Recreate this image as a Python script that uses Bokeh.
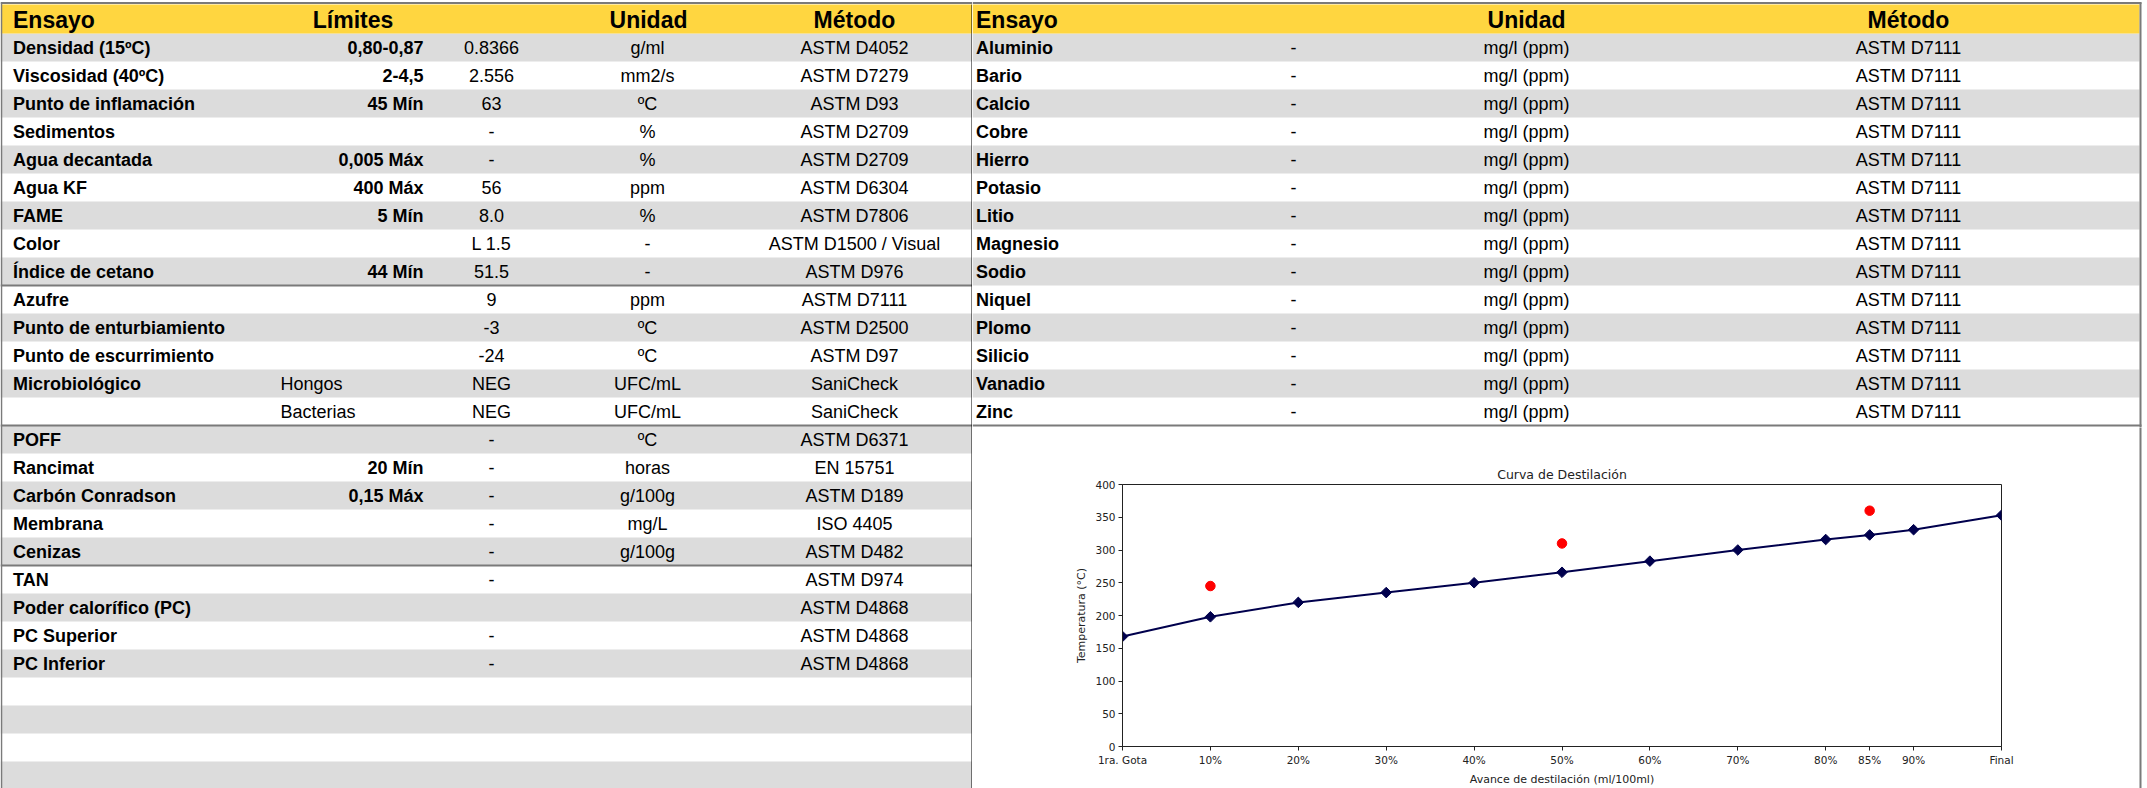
import numpy as np
from bokeh.plotting import figure
from bokeh.models import Range1d, FixedTicker
from bokeh.layouts import row, column
from bokeh.embed import file_html
from bokeh.resources import INLINE
from bokeh.core.properties import value

# ------------------------------------------------------------------ data
left_headers = ["Ensayo", "Límites", "Unidad", "Método"]
left_ensayo = ["Densidad (15ºC)", "Viscosidad (40ºC)", "Punto de inflamación", "Sedimentos",
               "Agua decantada", "Agua KF", "FAME", "Color", "Índice de cetano",
               "Azufre", "Punto de enturbiamiento", "Punto de escurrimiento", "Microbiológico", "",
               "POFF", "Rancimat", "Carbón Conradson", "Membrana", "Cenizas",
               "TAN", "Poder calorífico (PC)", "PC Superior", "PC Inferior"]
left_sublabel = ["", "", "", "", "", "", "", "", "",
                 "", "", "", "Hongos", "Bacterias",
                 "", "", "", "", "",
                 "", "", "", ""]
left_limites = ["0,80-0,87", "2-4,5", "45 Mín", "", "0,005 Máx", "400 Máx", "5 Mín", "", "44 Mín",
                "", "", "", "", "",
                "", "20 Mín", "0,15 Máx", "", "",
                "", "", "", ""]
left_resultado = ["0.8366", "2.556", "63", "-", "-", "56", "8.0", "L 1.5", "51.5",
                  "9", "-3", "-24", "NEG", "NEG",
                  "-", "-", "-", "-", "-",
                  "-", "", "-", "-"]
left_unidad = ["g/ml", "mm2/s", "ºC", "%", "%", "ppm", "%", "-", "-",
               "ppm", "ºC", "ºC", "UFC/mL", "UFC/mL",
               "ºC", "horas", "g/100g", "mg/L", "g/100g",
               "", "", "", ""]
left_metodo = ["ASTM D4052", "ASTM D7279", "ASTM D93", "ASTM D2709", "ASTM D2709", "ASTM D6304",
               "ASTM D7806", "ASTM D1500 / Visual", "ASTM D976",
               "ASTM D7111", "ASTM D2500", "ASTM D97", "SaniCheck", "SaniCheck",
               "ASTM D6371", "EN 15751", "ASTM D189", "ISO 4405", "ASTM D482",
               "ASTM D974", "ASTM D4868", "ASTM D4868", "ASTM D4868"]
left_empty_rows = 4
left_group_ends = [9, 14, 19]

right_headers = ["Ensayo", "Unidad", "Método"]
right_ensayo = ["Aluminio", "Bario", "Calcio", "Cobre", "Hierro", "Potasio", "Litio",
                "Magnesio", "Sodio", "Niquel", "Plomo", "Silicio", "Vanadio", "Zinc"]
right_resultado = ["-", "-", "-", "-", "-", "-", "-", "-", "-", "-", "-", "-", "-", "-"]
right_unidad = ["mg/l (ppm)", "mg/l (ppm)", "mg/l (ppm)", "mg/l (ppm)", "mg/l (ppm)",
                "mg/l (ppm)", "mg/l (ppm)", "mg/l (ppm)", "mg/l (ppm)", "mg/l (ppm)",
                "mg/l (ppm)", "mg/l (ppm)", "mg/l (ppm)", "mg/l (ppm)"]
right_metodo = ["ASTM D7111", "ASTM D7111", "ASTM D7111", "ASTM D7111", "ASTM D7111",
                "ASTM D7111", "ASTM D7111", "ASTM D7111", "ASTM D7111", "ASTM D7111",
                "ASTM D7111", "ASTM D7111", "ASTM D7111", "ASTM D7111"]

chart_title = "Curva de Destilación"
chart_xlabel = "Avance de destilación (ml/100ml)"
chart_ylabel = "Temperatura (°C)"
dist_labels = ["1ra. Gota", "10%", "20%", "30%", "40%", "50%", "60%", "70%", "80%", "85%", "90%", "Final"]
dist_pos = [0, 10, 20, 30, 40, 50, 60, 70, 80, 85, 90, 100]
dist_temp = [168, 198, 220, 235, 250, 266, 283, 300, 316, 323, 331, 353]
spec_pos = [10, 50, 85]
spec_temp = [245, 310, 360]
y_ticks = [0, 50, 100, 150, 200, 250, 300, 350, 400]

# ------------------------------------------------------------------ styles
FONT = "Liberation Sans"
CFONT = "DejaVu Sans"
YELLOW = "#FFD640"
GRAY = "#DCDCDC"
SEP = "#7a7a7a"
NAVY = "#00004d"
ROW_H = 28.0
ROW0 = 5.0    # px of first header row unit
TOP_PX = 0.0
PAGE_W, PAGE_H = 2147, 788


def u(px):
    return (px - ROW0) / ROW_H


def table_fig(x_lo, x_hi, px_bot, px_top=TOP_PX):
    p = figure(width=int(round(x_hi - x_lo)), height=int(round(px_bot - px_top)),
               x_range=Range1d(x_lo, x_hi), y_range=Range1d(u(px_bot), u(px_top)),
               toolbar_location=None, output_backend="svg", min_border=0,
               x_axis_location=None, y_axis_location=None, outline_line_color=None)
    p.grid.visible = False
    p.background_fill_color = "white"
    p.border_fill_color = "white"
    p.frame_align = False
    return p


def add_text(p, x, rows, texts, size="18px", bold=False, align="left"):
    p.text(x=[x] * len(texts), y=[r + 0.5 for r in rows], text=texts,
           text_font=value(FONT), text_font_size=size,
           text_font_style="bold" if bold else "normal",
           text_align=align, text_baseline="middle", text_color="black")


# ------------------------------------------------------------------ left table
LX0, LX1 = 0.0, 972.0
left = table_fig(LX0, LX1, PAGE_H)
n_left = len(left_ensayo) + left_empty_rows
rows_all = np.arange(1, n_left + 1)
gray_rows = [r for r in rows_all if r % 2 == 1]
left.quad(left=LX0, right=LX1, top=gray_rows, bottom=[r + 1 for r in gray_rows],
          fill_color=GRAY, line_color=None)
left.quad(left=LX0, right=LX1, top=u(4), bottom=1, fill_color=YELLOW, line_color=None)
left.segment(x0=LX0, x1=LX1, y0=[g + 1 for g in left_group_ends], y1=[g + 1 for g in left_group_ends],
             line_color=SEP, line_width=2)
left.segment(x0=LX0, x1=LX1, y0=u(2.5), y1=u(2.5), line_color=SEP, line_width=2)
left.segment(x0=1.0, x1=1.0, y0=u(2), y1=n_left + 2, line_color=SEP, line_width=1.5)
left.segment(x0=971.5, x1=971.5, y0=u(4), y1=n_left + 2, line_color="black", line_width=1)

hdr_row = [0]
add_text(left, 12.5, hdr_row, [left_headers[0]], size="23px", bold=True, align="left")
add_text(left, 352.5, hdr_row, [left_headers[1]], size="23px", bold=True, align="center")
add_text(left, 648, hdr_row, [left_headers[2]], size="23px", bold=True, align="center")
add_text(left, 854, hdr_row, [left_headers[3]], size="23px", bold=True, align="center")

data_rows = list(range(1, len(left_ensayo) + 1))
add_text(left, 12.5, data_rows, left_ensayo, bold=True, align="left")
add_text(left, 280, data_rows, left_sublabel, align="left")
add_text(left, 423, data_rows, left_limites, bold=True, align="right")
add_text(left, 491, data_rows, left_resultado, align="center")
add_text(left, 647, data_rows, left_unidad, align="center")
add_text(left, 854, data_rows, left_metodo, align="center")

# ------------------------------------------------------------------ right table
RX0, RX1 = 972.0, float(PAGE_W)
RIGHT_BOT = 427.0
EDGE_X = 2140.0
right = table_fig(RX0, RX1, RIGHT_BOT)
n_right = len(right_ensayo)
r_rows = list(range(1, n_right + 1))
r_gray = [r for r in r_rows if r % 2 == 1]
right.quad(left=RX0, right=EDGE_X - 1, top=r_gray, bottom=[r + 1 for r in r_gray],
           fill_color=GRAY, line_color=None)
right.quad(left=RX0, right=EDGE_X - 1, top=u(4), bottom=1, fill_color=YELLOW, line_color=None)
right.segment(x0=RX0, x1=EDGE_X + 1, y0=n_right + 1, y1=n_right + 1, line_color=SEP, line_width=2)
right.segment(x0=RX0, x1=EDGE_X + 1, y0=u(2.5), y1=u(2.5), line_color=SEP, line_width=2)
right.segment(x0=EDGE_X, x1=EDGE_X, y0=u(2), y1=n_right + 3, line_color=SEP, line_width=2)

add_text(right, 975.5, hdr_row, [right_headers[0]], size="23px", bold=True, align="left")
add_text(right, 1526, hdr_row, [right_headers[1]], size="23px", bold=True, align="center")
add_text(right, 1908, hdr_row, [right_headers[2]], size="23px", bold=True, align="center")
add_text(right, 975.5, r_rows, right_ensayo, bold=True, align="left")
add_text(right, 1293, r_rows, right_resultado, align="center")
add_text(right, 1526, r_rows, right_unidad, align="center")
add_text(right, 1908, r_rows, right_metodo, align="center")

# ------------------------------------------------------------------ chart
EDGE_W = 10
chart = figure(width=int(PAGE_W - RX0) - EDGE_W, height=int(PAGE_H - RIGHT_BOT),
               x_range=Range1d(0, 100), y_range=Range1d(0, 400),
               toolbar_location=None, output_backend="svg", title=chart_title,
               min_border_left=150, min_border_right=146 - EDGE_W, min_border_top=57, min_border_bottom=41)
chart.frame_align = False
chart.grid.visible = False
chart.outline_line_color = "#222222"
chart.outline_line_width = 1
chart.background_fill_color = "white"
chart.border_fill_color = "white"
chart.title.align = "center"
chart.title.text_font = CFONT
chart.title.text_font_size = "12.5px"
chart.title.text_font_style = "normal"
chart.title.text_color = "#222222"
chart.title.standoff = 5

chart.xaxis.ticker = FixedTicker(ticks=dist_pos)
chart.xaxis.major_label_overrides = {k: v for k, v in zip(dist_pos, dist_labels)}
chart.yaxis.ticker = FixedTicker(ticks=y_ticks)
chart.xaxis.axis_label = chart_xlabel
chart.yaxis.axis_label = chart_ylabel
for ax in (chart.xaxis, chart.yaxis):
    ax.axis_line_color = "#222222"
    ax.major_tick_line_color = "#222222"
    ax.major_tick_out = 4
    ax.major_tick_in = 0
    ax.minor_tick_out = 0
    ax.minor_tick_in = 0
    ax.major_label_standoff = 3
    ax.major_label_text_font = CFONT
    ax.major_label_text_font_size = "10.5px"
    ax.major_label_text_color = "#222222"
    ax.axis_label_text_font = CFONT
    ax.axis_label_text_font_size = "11px"
    ax.axis_label_text_font_style = "normal"
    ax.axis_label_text_color = "#222222"
    ax.axis_label_standoff = 4

chart.line(dist_pos, dist_temp, line_color=NAVY, line_width=2)
chart.scatter(dist_pos, dist_temp, marker="square", angle=np.pi / 4, size=7.5,
              fill_color=NAVY, line_color=NAVY)
chart.scatter(spec_pos, spec_temp, marker="circle", size=9.5, fill_color="#ff0000", line_color="#ff0000")

# thin strip carrying the right border of the chart box
edge = table_fig(PAGE_W - EDGE_W, PAGE_W, PAGE_H, px_top=RIGHT_BOT)
edge.segment(x0=EDGE_X, x1=EDGE_X, y0=u(RIGHT_BOT - 2), y1=u(PAGE_H + 2), line_color=SEP, line_width=2)

layout = row(left, column(right, row(chart, edge)))
open("out.html", "w").write(file_html(layout, INLINE, title="Informe"))
